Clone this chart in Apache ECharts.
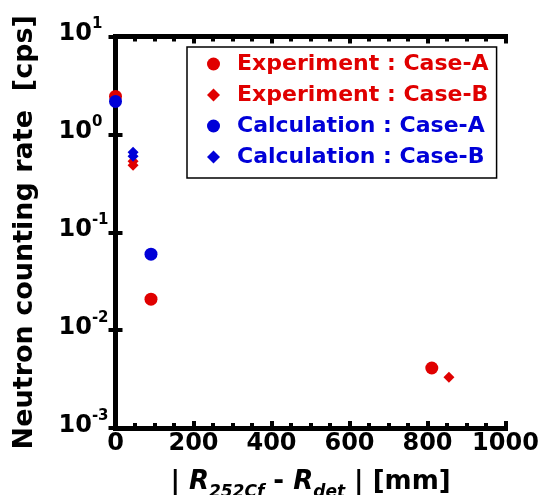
<!DOCTYPE html>
<html>
<head>
<meta charset="utf-8">
<script src="https://cdn.jsdelivr.net/npm/echarts@6/dist/echarts.min.js"></script>
<style>
  html, body { margin: 0; padding: 0; background: #fff; }
  #chart { width: 543px; height: 495px; }
</style>
</head>
<body>
<div id="chart"></div>
<script>
// distance [mm] / counting rate [cps]
var expA_x = [0, 91, 811];
var expA_y = [2.44, 0.0207, 0.0041];
var expB_x = [45, 45, 855];
var expB_y = [0.53, 0.483, 0.0033];
var calA_x = [0, 91];
var calA_y = [2.17, 0.0597];
var calB_x = [45, 45];
var calB_y = [0.655, 0.597];

var names = ['Experiment : Case-A', 'Experiment : Case-B', 'Calculation : Case-A', 'Calculation : Case-B'];

var RED = '#e00000';
var BLUE = '#0000d8';
var FONT = 'DejaVu Sans';

function pairs(xs, ys) {
    var out = [];
    for (var i = 0; i < xs.length; i++) {
        out.push([xs[i], ys[i]]);
    }
    return out;
}

var myChart = echarts.init(document.getElementById('chart'));

var frameLine = { show: true, lineStyle: { color: '#000', width: 5, cap: 'square' } };
var tickStyle = { color: '#000', width: 4 };

option = {
    animation: false,
    backgroundColor: '#fff',
    grid: { left: 115.5, right: 37.5, top: 36.5, bottom: 67, outerBoundsMode: 'none', containLabel: false },
    legend: {
        orient: 'vertical',
        left: 187,
        top: 47,
        itemWidth: 13,
        itemHeight: 13,
        itemGap: 9,
        padding: [6, 8, 10, 20],
        backgroundColor: '#fff',
        borderColor: '#000',
        borderWidth: 1.5,
        textStyle: { fontFamily: FONT, fontWeight: 'bold', fontSize: 22, padding: [0, 0, 0, 12] },
        data: [
            { name: names[0], textStyle: { color: RED } },
            { name: names[1], textStyle: { color: RED } },
            { name: names[2], textStyle: { color: BLUE } },
            { name: names[3], textStyle: { color: BLUE } }
        ]
    },
    xAxis: [{
        type: 'value',
        min: 0,
        max: 1000,
        interval: 200,
        position: 'bottom',
        axisLine: frameLine,
        axisTick: { show: true, inside: true, length: 7, lineStyle: tickStyle },
        minorTick: { show: true, splitNumber: 4, length: 5, lineStyle: tickStyle },
        splitLine: { show: false },
        axisLabel: {
            color: '#000', fontFamily: FONT, fontWeight: 'bold', fontSize: 24, margin: 4,
            formatter: function (v) { return String(v); }
        },
        name: '{t|| }{i|R}{sub|252Cf}{t| - }{i|R}{sub|det}{t| | [mm]}',
        nameLocation: 'middle',
        nameGap: 41,
        nameTextStyle: {
            rich: {
                t: { fontFamily: FONT, fontWeight: 'bold', fontSize: 26, color: '#000', lineHeight: 32, verticalAlign: 'top' },
                i: { fontFamily: FONT, fontWeight: 'bold', fontStyle: 'italic', fontSize: 26, color: '#000', lineHeight: 32, verticalAlign: 'top' },
                sub: { fontFamily: FONT, fontWeight: 'bold', fontStyle: 'italic', fontSize: 17, color: '#000', lineHeight: 17, verticalAlign: 'bottom' }
            }
        }
    }, {
        type: 'value',
        min: 0,
        max: 1000,
        interval: 200,
        position: 'top',
        axisLine: frameLine,
        axisTick: { show: true, inside: true, length: 7, lineStyle: tickStyle },
        minorTick: { show: true, splitNumber: 4, length: 5, lineStyle: tickStyle },
        splitLine: { show: false },
        axisLabel: { show: false }
    }],
    yAxis: [{
        type: 'log',
        logBase: 10,
        min: 0.001,
        max: 10,
        position: 'left',
        axisLine: frameLine,
        axisTick: { show: true, inside: true, length: 7, lineStyle: tickStyle },
        splitLine: { show: false },
        axisLabel: {
            align: 'left',
            margin: 57,
            padding: [0, 0, 5, 0],
            formatter: function (v) {
                var e = Math.round(Math.log(v) / Math.LN10);
                return '{b|10}{s|' + e + '}';
            },
            rich: {
                b: { fontFamily: FONT, fontWeight: 'bold', fontSize: 24, color: '#000', lineHeight: 24, verticalAlign: 'bottom' },
                s: { fontFamily: FONT, fontWeight: 'bold', fontSize: 15, color: '#000', lineHeight: 15, padding: [0, 0, 14, 0], verticalAlign: 'bottom' }
            }
        },
        name: 'Neutron counting rate  [cps]',
        nameLocation: 'middle',
        nameGap: 77,
        nameTextStyle: { fontFamily: FONT, fontWeight: 'bold', fontSize: 27, color: '#000' }
    }, {
        type: 'log',
        logBase: 10,
        min: 0.001,
        max: 10,
        position: 'right',
        axisLine: frameLine,
        axisTick: { show: true, inside: true, length: 7, lineStyle: tickStyle },
        splitLine: { show: false },
        axisLabel: { show: false }
    }],
    series: [
        {
            name: names[0], type: 'scatter', symbol: 'circle', symbolSize: 13,
            itemStyle: { color: RED, opacity: 1 }, data: pairs(expA_x, expA_y), z: 3
        },
        {
            name: names[1], type: 'scatter', symbol: 'diamond', symbolSize: 11,
            itemStyle: { color: RED, opacity: 1 }, data: pairs(expB_x, expB_y), z: 3
        },
        {
            name: names[2], type: 'scatter', symbol: 'circle', symbolSize: 13,
            itemStyle: { color: BLUE, opacity: 1 }, data: pairs(calA_x, calA_y), z: 4
        },
        {
            name: names[3], type: 'scatter', symbol: 'diamond', symbolSize: 11,
            itemStyle: { color: BLUE, opacity: 1 }, data: pairs(calB_x, calB_y), z: 4
        }
    ]
};

myChart.setOption(option, true);
window.onresize = myChart.resize;
</script>
</body>
</html>
